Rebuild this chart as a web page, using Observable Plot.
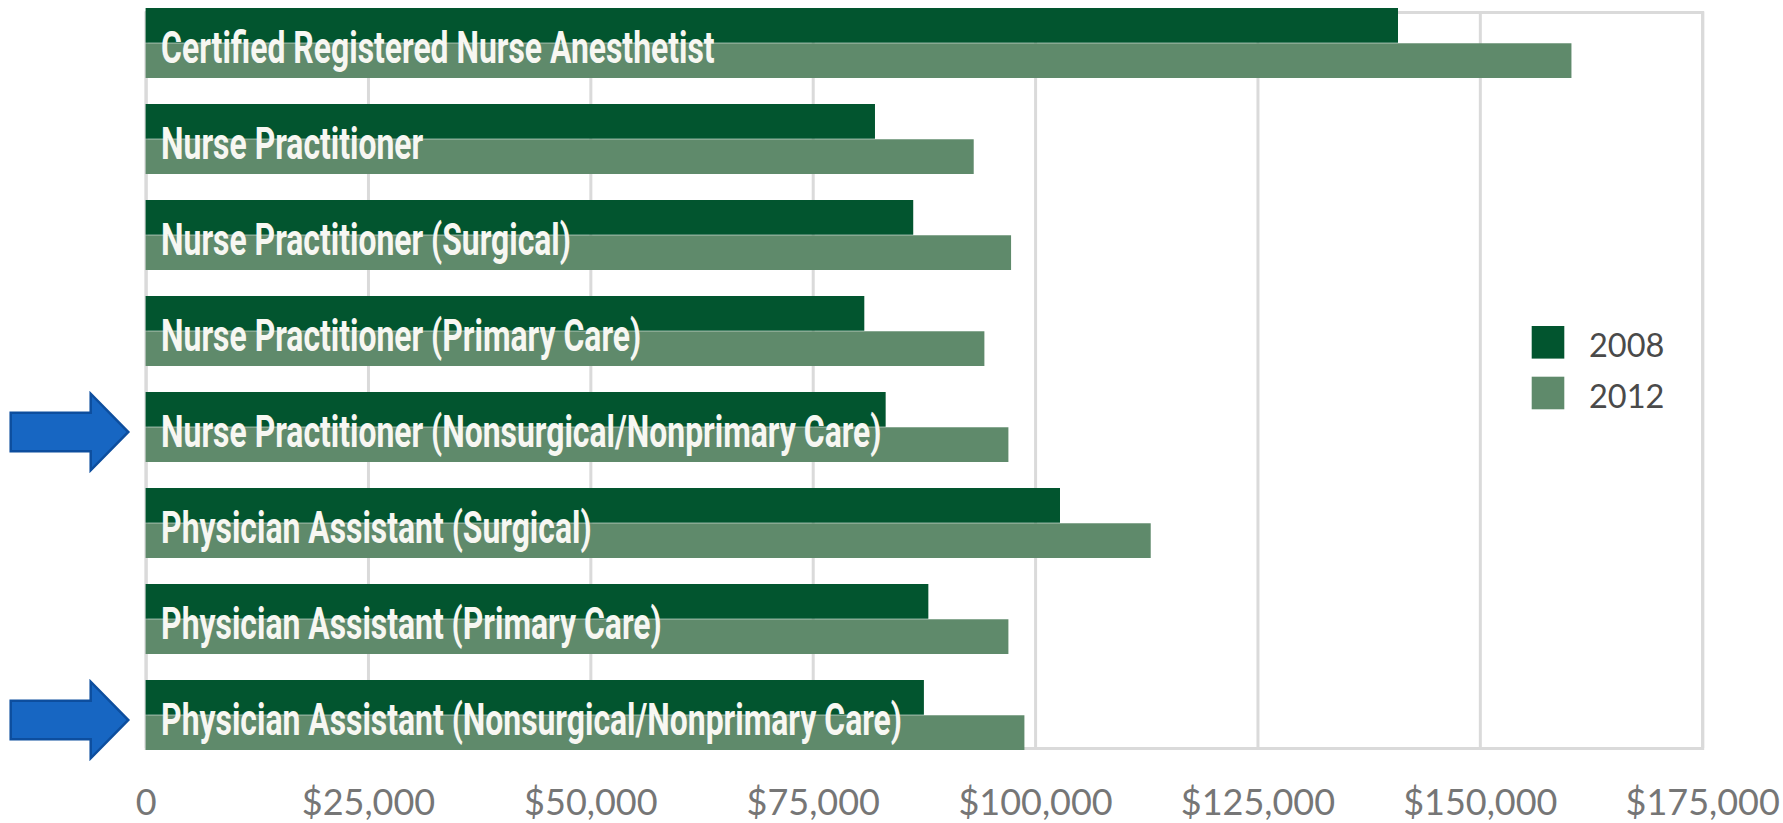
<!DOCTYPE html>
<html>
<head>
<meta charset="utf-8">
<script src="https://cdn.jsdelivr.net/npm/d3@7"></script>
<script src="https://cdn.jsdelivr.net/npm/@observablehq/plot@0.6"></script>
<style>
  html, body { margin: 0; padding: 0; background: #ffffff; }
  #chart { width: 1783px; height: 823px; overflow: hidden; }
</style>
</head>
<body>
<div id="chart"></div>
<script>
// ---- data ----
const categories = [
  "Certified Registered Nurse Anesthetist",
  "Nurse Practitioner",
  "Nurse Practitioner (Surgical)",
  "Nurse Practitioner (Primary Care)",
  "Nurse Practitioner (Nonsurgical/Nonprimary Care)",
  "Physician Assistant (Surgical)",
  "Physician Assistant (Primary Care)",
  "Physician Assistant (Nonsurgical/Nonprimary Care)"
];
const years = ["2008", "2012"];
const values2008 = [140800, 82000, 86300, 80800, 83200, 102800, 88000, 87500];
const values2012 = [160300, 93100, 97300, 94300, 97000, 113000, 97000, 98800];
const xTicks = [0, 25000, 50000, 75000, 100000, 125000, 150000, 175000];
const xTickLabels = ["0", "$25,000", "$50,000", "$75,000", "$100,000", "$125,000", "$150,000", "$175,000"];
const highlighted = [
  "Nurse Practitioner (Nonsurgical/Nonprimary Care)",
  "Physician Assistant (Nonsurgical/Nonprimary Care)"
];

// ---- styling / layout ----
const colors = ["#02552f", "#5f8a6b"];
const W = 1783, H = 823;
const mt = 7.5, mb = 71.3, ml = 145.6, mr = 80.8;
const padInner = 0.267;
const step = (H - mt - mb) / (categories.length - padInner);
const bandW = step * (1 - padInner);
const half = bandW / 2;
const gridColor = "#dadada";
const labelFont = "Roboto, 'Liberation Sans', sans-serif";
const labelSize = 45;
const labelEmWidth = 12.3; // width of the first label, in ems, in the condensed face

const rows = [];
categories.forEach((c, i) => {
  rows.push({category: c, year: years[0], value: values2008[i]});
  rows.push({category: c, year: years[1], value: values2012[i]});
});
const tickLabel = new Map(xTicks.map((t, i) => [t, xTickLabels[i]]));

function arrows(index, scales) {
  const y = scales.y;
  const bw = typeof y.bandwidth === "function" ? y.bandwidth() : bandW;
  const g = d3.create("svg:g");
  for (const c of highlighted) {
    const cy = y(c) + bw / 2 + 5;
    const pts = [[10.7, -19.2], [90.7, -19.2], [90.7, -38.3], [128.3, 0], [90.7, 38.3], [90.7, 19.2], [10.7, 19.2]];
    g.append("path")
      .attr("d", "M" + pts.map(([px, py]) => `${px},${cy + py}`).join("L") + "Z")
      .attr("fill", "#1766c2")
      .attr("stroke", "#0d4e9e")
      .attr("stroke-width", 2.5)
      .attr("stroke-linejoin", "miter");
  }
  return g.node();
}

function legend() {
  const g = d3.create("svg:g").attr("text-anchor", "start");
  const lx = 1531.7, ly = [326, 376.7], size = 32.6;
  years.forEach((yr, i) => {
    g.append("rect").attr("x", lx).attr("y", ly[i]).attr("width", size).attr("height", size)
      .attr("fill", colors[i]);
    g.append("text").attr("x", 1589).attr("y", ly[i] + size - 1.5)
      .attr("text-anchor", "start")
      .attr("font-family", "Lato, sans-serif").attr("font-size", 32.5)
      .attr("fill", "#4a4a4a").text(yr);
  });
  return g.node();
}

const chart = Plot.plot({
  width: W,
  height: H,
  marginTop: mt,
  marginBottom: mb,
  marginLeft: ml,
  marginRight: mr,
  style: {background: "#ffffff", overflow: "visible"},
  x: {domain: [0, 175000], ticks: xTicks, tickFormat: d => tickLabel.get(d), tickSize: 0, tickPadding: 37, label: null},
  y: {domain: categories, paddingInner: padInner, paddingOuter: 0, axis: null},
  color: {domain: years, range: colors},
  marks: [
    Plot.gridX(xTicks, {stroke: gridColor, strokeWidth: 3, strokeOpacity: 1, insetTop: 4.5, insetBottom: 3.7}),
    Plot.frame({stroke: gridColor, strokeWidth: 3, insetTop: 4.5, insetBottom: 3.7}),
    Plot.barX(rows.filter(d => d.year === years[0]), {x: "value", y: "category", fill: "year", insetBottom: half}),
    Plot.barX(rows.filter(d => d.year === years[1]), {x: "value", y: "category", fill: "year", insetTop: half}),
    Plot.text(categories, {
      x: () => 0, y: d => d, text: d => d, textAnchor: "start", dx: 15, dy: 5,
      fill: "#f7f7f2", fontSize: labelSize, fontFamily: labelFont, fontWeight: 700
    }),
    arrows,
    legend
  ]
});

// axis label styling
d3.select(chart).selectAll("g[aria-label='x-axis tick label'], g[aria-label='x-axis']")
  .attr("font-family", "Lato, sans-serif").attr("font-size", 36).attr("fill", "#767676");
d3.select(chart).selectAll("g[aria-label='x-axis tick label'] text, g[aria-label='x-axis'] text")
  .attr("font-family", "Lato, sans-serif").attr("font-size", 36).attr("fill", "#767676");

document.getElementById("chart").appendChild(chart);

// condense the bar labels horizontally (uniform factor, as in a condensed typeface)
const labelNodes = d3.select(chart).selectAll("g[aria-label='text'] text").nodes();
if (labelNodes.length) {
  const L0 = labelNodes[0].getComputedTextLength();
  const factor = L0 > 0 ? (labelEmWidth * labelSize) / L0 : 1;
  for (const el of labelNodes) {
    const L = el.getComputedTextLength();
    el.setAttribute("textLength", (L * factor).toFixed(1));
    el.setAttribute("lengthAdjust", "spacingAndGlyphs");
  }
}
</script>
</body>
</html>
